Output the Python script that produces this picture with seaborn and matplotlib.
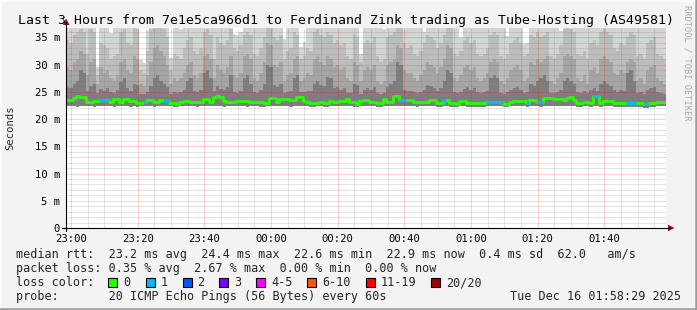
import numpy as np
import matplotlib
matplotlib.use("Agg")
import matplotlib.pyplot as plt
import seaborn as sns
from matplotlib.patches import Rectangle, Polygon
from matplotlib.lines import Line2D

# ---------------- data (one value per minute, 180 minutes) ----------------
start_time = "22:58:29"
tick_labels = ["23:00", "23:20", "23:40", "00:00", "00:20", "00:40", "01:00", "01:20", "01:40"]
ytick_values = [0, 5, 10, 15, 20, 25, 30, 35]
ytick_labels = ["0", "5 m", "10 m", "15 m", "20 m", "25 m", "30 m", "35 m"]

median_ms = [
    23.5, 23.5, 23.9, 24.2, 24.1, 24.1, 23.2, 23.2, 23.3, 23.3,
    23.4, 23.4, 23.4, 23.2, 23.6, 23.6, 23.2, 23.7, 23.7, 23.3,
    23.3, 23.0, 23.0, 23.2, 23.5, 23.5, 23.2, 23.2, 23.5, 23.3,
    23.3, 23.0, 23.0, 22.8, 23.2, 23.3, 23.3, 23.1, 23.2, 23.2,
    23.2, 23.7, 23.7, 23.2, 24.0, 24.2, 24.1, 23.3, 23.2, 23.2,
    23.2, 23.3, 23.3, 23.3, 23.3, 23.2, 23.2, 23.2, 23.2, 23.0,
    23.0, 23.8, 23.8, 23.2, 23.7, 23.7, 23.7, 23.4, 23.4, 24.1,
    24.1, 23.3, 23.2, 23.0, 23.0, 23.0, 23.2, 23.0, 23.0, 23.3,
    23.2, 23.2, 23.3, 23.3, 23.6, 23.2, 23.2, 22.8, 23.3, 23.5,
    23.5, 23.2, 23.2, 22.9, 22.9, 23.7, 23.2, 23.2, 24.2, 24.2,
    23.4, 23.4, 23.5, 23.5, 23.2, 23.2, 23.2, 23.2, 23.2, 23.4,
    23.4, 23.0, 23.0, 23.3, 23.5, 23.0, 23.0, 22.8, 23.3, 23.3,
    22.9, 22.9, 22.9, 22.9, 22.9, 22.9, 23.2, 23.2, 23.2, 23.2,
    23.2, 22.8, 22.8, 23.2, 23.3, 23.3, 23.3, 23.3, 23.0, 23.4,
    23.4, 23.1, 23.1, 23.9, 23.9, 23.9, 23.7, 23.7, 23.7, 23.4,
    23.8, 24.1, 23.5, 23.0, 23.0, 23.2, 23.2, 23.0, 24.2, 24.2,
    23.0, 23.3, 23.3, 23.3, 23.0, 23.0, 23.0, 23.0, 23.0, 23.0,
    23.0, 23.0, 23.0, 22.8, 22.8, 22.9, 22.9, 23.2, 23.2, 23.2,
]

lost_pings = [
    0, 0, 0, 0, 0, 0, 0, 0, 0, 0, 1, 1, 1, 0, 0, 0, 0, 0, 0, 0,
    0, 0, 0, 1, 0, 0, 0, 0, 0, 1, 1, 0, 0, 0, 0, 0, 0, 0, 0, 0,
    0, 0, 0, 0, 0, 0, 0, 0, 0, 0, 0, 0, 0, 0, 0, 0, 0, 0, 0, 0,
    0, 0, 0, 0, 0, 0, 0, 0, 0, 0, 0, 0, 0, 0, 0, 0, 0, 0, 0, 0,
    0, 0, 0, 0, 0, 0, 0, 0, 0, 0, 0, 0, 0, 0, 0, 0, 0, 0, 0, 0,
    1, 1, 0, 0, 0, 0, 0, 0, 0, 0, 0, 0, 0, 1, 0, 0, 0, 0, 0, 0,
    0, 0, 0, 0, 0, 0, 1, 1, 1, 1, 1, 0, 0, 0, 0, 0, 0, 0, 1, 0,
    0, 1, 1, 0, 0, 0, 0, 0, 0, 0, 0, 0, 0, 0, 0, 0, 0, 0, 1, 1,
    0, 0, 0, 0, 0, 0, 0, 0, 1, 1, 1, 0, 0, 1, 1, 0, 0, 0, 0, 0,
]

smoke_min = [
    22.3, 22.4, 22.3, 22.2, 22.3, 22.4, 22.3, 22.3, 22.2, 22.3,
    22.3, 22.4, 22.3, 22.3, 22.2, 22.3, 22.3, 22.4, 22.3, 22.2,
    22.3, 22.2, 22.3, 22.3, 22.4, 22.3, 22.2, 22.3, 22.3, 22.3,
    22.4, 22.3, 22.2, 22.2, 22.3, 22.3, 22.4, 22.3, 22.3, 22.2,
    22.3, 22.3, 22.4, 22.3, 22.3, 22.4, 22.3, 22.2, 22.3, 22.3,
    22.3, 22.4, 22.3, 22.3, 22.2, 22.3, 22.3, 22.3, 22.2, 22.2,
    22.3, 22.4, 22.3, 22.3, 22.3, 22.4, 22.3, 22.2, 22.3, 22.4,
    22.4, 22.3, 22.3, 22.2, 22.2, 22.3, 22.3, 22.2, 22.2, 22.3,
    22.3, 22.3, 22.4, 22.3, 22.3, 22.3, 22.2, 22.2, 22.3, 22.3,
    22.4, 22.3, 22.3, 22.2, 22.2, 22.3, 22.3, 22.3, 22.4, 22.4,
    22.3, 22.3, 22.4, 22.3, 22.3, 22.2, 22.3, 22.3, 22.3, 22.3,
    22.3, 22.2, 22.2, 22.3, 22.4, 22.2, 22.2, 22.2, 22.3, 22.3,
    22.2, 22.2, 22.2, 22.2, 22.2, 22.2, 22.3, 22.3, 22.3, 22.3,
    22.3, 22.2, 22.2, 22.3, 22.3, 22.3, 22.3, 22.3, 22.2, 22.3,
    22.3, 22.3, 22.2, 22.4, 22.4, 22.3, 22.3, 22.3, 22.3, 22.3,
    22.3, 22.4, 22.3, 22.2, 22.2, 22.3, 22.3, 22.2, 22.3, 22.3,
    22.2, 22.3, 22.3, 22.3, 22.2, 22.2, 22.2, 22.2, 22.2, 22.2,
    22.2, 22.2, 22.2, 22.1, 22.1, 22.2, 22.2, 22.3, 22.3, 22.3,
]

smoke_max = [
    37.5, 37.5, 37.5, 37.5, 37.5, 37.5, 36.8, 37.5, 37.5, 29.6,
    37.5, 37.5, 37.5, 35.8, 37.5, 37.5, 37.5, 37.5, 36.9, 37.5,
    37.5, 37.5, 30.8, 30.2, 36.4, 37.5, 37.5, 37.5, 37.5, 37.5,
    37.5, 31.2, 37.5, 37.5, 36.6, 37.5, 37.5, 37.5, 37.5, 36.9,
    37.5, 37.5, 37.5, 37.5, 37.5, 37.5, 37.5, 37.5, 37.5, 37.5,
    35.6, 35.4, 35.9, 37.5, 37.5, 37.5, 37.5, 36.8, 37.5, 37.5,
    37.5, 37.5, 37.5, 37.5, 37.5, 34.6, 37.5, 37.5, 37.5, 37.5,
    33.2, 34.1, 37.5, 37.5, 37.5, 37.5, 37.5, 37.5, 37.5, 37.5,
    37.5, 37.5, 37.5, 37.5, 37.5, 37.5, 37.5, 37.5, 31.9, 37.5,
    37.5, 37.5, 37.5, 37.5, 37.5, 36.5, 37.5, 37.5, 37.5, 37.5,
    37.5, 37.5, 37.5, 37.5, 37.5, 37.5, 37.5, 36.0, 37.5, 37.5,
    37.5, 37.5, 37.5, 37.5, 37.5, 37.5, 37.5, 37.5, 35.0, 37.5,
    37.5, 37.5, 37.5, 37.5, 37.5, 37.5, 37.5, 37.5, 37.5, 37.5,
    37.5, 37.5, 35.2, 37.5, 37.5, 37.5, 37.5, 33.7, 34.0, 37.5,
    37.5, 37.5, 37.5, 37.5, 37.5, 37.5, 37.5, 37.5, 36.1, 37.5,
    37.5, 37.5, 37.5, 37.5, 37.5, 37.5, 37.5, 37.5, 37.5, 37.5,
    37.5, 37.5, 37.5, 37.5, 37.5, 37.5, 37.5, 37.5, 37.5, 37.5,
    37.5, 37.5, 37.5, 37.5, 37.5, 37.5, 37.5, 37.5, 37.5, 37.5,
]

smoke_p85 = [
    34.5, 34.0, 35.5, 36.0, 36.5, 36.0, 32.0, 36.5, 36.0, 28.0,
    34.0, 33.5, 33.0, 31.0, 31.5, 32.0, 36.0, 36.5, 34.0, 33.5,
    37.0, 36.5, 29.0, 28.5, 32.5, 36.5, 37.5, 37.5, 37.0, 36.5,
    35.0, 29.0, 32.0, 31.5, 31.0, 33.0, 34.5, 35.0, 32.5, 32.0,
    33.0, 36.0, 36.5, 35.5, 31.0, 35.0, 34.0, 33.5, 34.5, 36.5,
    33.0, 32.5, 33.5, 35.5, 36.0, 35.5, 32.0, 31.5, 33.0, 35.0,
    37.5, 37.5, 35.0, 34.5, 35.5, 31.0, 32.5, 33.0, 36.0, 35.5,
    31.0, 31.5, 33.0, 32.5, 36.0, 36.5, 35.5, 35.0, 36.0, 35.5,
    34.0, 34.5, 33.5, 34.0, 31.5, 31.0, 35.5, 35.0, 30.5, 34.0,
    34.5, 34.0, 35.0, 31.5, 30.5, 31.0, 35.0, 35.5, 36.0, 37.5,
    37.5, 34.0, 33.0, 33.5, 32.0, 31.5, 32.5, 34.0, 35.5, 35.0,
    34.5, 33.0, 34.0, 35.5, 37.0, 37.0, 32.0, 31.5, 32.5, 34.5,
    35.0, 34.0, 34.5, 32.0, 31.5, 32.0, 33.0, 35.5, 36.0, 35.5,
    31.5, 31.0, 32.0, 34.0, 34.5, 35.0, 34.0, 31.5, 32.0, 35.5,
    35.0, 36.0, 35.0, 35.5, 36.0, 31.5, 31.0, 32.0, 33.5, 36.5,
    37.0, 36.5, 36.0, 32.0, 31.5, 32.5, 31.0, 34.0, 34.5, 33.5,
    36.0, 36.5, 36.0, 35.5, 33.0, 32.5, 34.0, 33.5, 35.0, 36.0,
    35.5, 31.5, 32.0, 31.0, 34.0, 34.5, 35.0, 32.0, 31.5, 31.0,
]

smoke_p70 = [
    29.5, 29.0, 30.5, 31.0, 32.5, 32.0, 28.0, 30.5, 31.0, 26.5,
    29.5, 28.5, 29.0, 27.5, 27.0, 28.0, 30.5, 31.0, 29.0, 28.5,
    31.5, 31.0, 26.5, 26.0, 28.0, 30.5, 33.0, 33.5, 32.5, 31.5,
    30.0, 26.5, 27.5, 27.0, 27.5, 28.5, 30.0, 30.5, 28.0, 27.5,
    28.5, 31.5, 32.0, 31.0, 27.5, 30.0, 29.0, 28.5, 29.5, 31.5,
    28.0, 27.5, 28.5, 31.5, 32.0, 31.0, 27.5, 27.0, 28.5, 30.5,
    34.0, 33.5, 30.0, 29.5, 30.5, 27.0, 28.0, 28.5, 31.0, 31.5,
    27.0, 27.5, 28.5, 28.0, 31.0, 31.5, 30.5, 30.0, 31.5, 31.0,
    29.5, 30.0, 29.0, 29.5, 27.5, 27.0, 30.5, 30.0, 27.0, 29.0,
    29.5, 29.0, 30.0, 27.0, 26.5, 27.0, 30.0, 30.5, 31.0, 33.5,
    33.0, 29.0, 28.5, 28.5, 27.5, 27.0, 28.0, 29.0, 30.5, 30.0,
    29.5, 28.5, 29.5, 31.0, 33.5, 33.0, 27.5, 27.0, 28.0, 29.5,
    30.0, 29.0, 29.5, 27.5, 27.0, 27.5, 28.5, 30.5, 31.0, 30.5,
    27.0, 26.5, 27.5, 29.0, 29.5, 30.0, 29.0, 27.0, 27.5, 30.5,
    30.0, 31.0, 30.5, 31.0, 31.5, 27.0, 26.5, 27.5, 28.5, 31.5,
    32.0, 31.5, 31.0, 27.5, 27.0, 28.0, 26.5, 29.0, 29.5, 28.5,
    31.0, 31.5, 31.0, 30.5, 28.5, 28.0, 29.0, 28.5, 30.5, 31.0,
    30.5, 27.0, 27.5, 26.5, 29.0, 29.5, 30.0, 27.5, 27.0, 26.5,
]

smoke_p60 = [
    25.8, 25.6, 26.5, 27.0, 29.0, 28.5, 25.2, 26.0, 26.5, 24.8,
    25.5, 25.2, 25.6, 24.9, 24.8, 25.3, 26.8, 27.5, 25.6, 25.2,
    26.5, 26.2, 24.6, 24.5, 25.0, 26.0, 27.5, 28.0, 27.0, 26.4,
    25.8, 24.6, 24.9, 24.8, 25.0, 25.4, 27.0, 27.5, 25.2, 25.0,
    25.3, 28.5, 29.0, 27.5, 25.2, 26.0, 25.5, 25.3, 25.8, 28.0,
    25.0, 24.8, 25.2, 27.5, 28.0, 26.5, 24.9, 24.7, 25.3, 26.5,
    30.0, 29.5, 26.2, 25.8, 26.4, 24.8, 25.0, 25.2, 27.5, 28.0,
    24.9, 25.0, 25.2, 25.1, 26.5, 27.0, 26.3, 26.0, 27.8, 27.5,
    25.6, 25.9, 25.4, 25.6, 24.8, 24.7, 26.5, 26.2, 24.6, 25.3,
    25.6, 25.3, 25.8, 24.8, 24.6, 24.8, 25.9, 26.4, 27.0, 30.5,
    30.0, 25.4, 25.1, 25.2, 24.9, 24.7, 25.0, 25.3, 26.2, 26.0,
    25.6, 25.2, 25.7, 27.0, 29.0, 28.5, 24.9, 24.7, 25.0, 25.5,
    25.8, 25.4, 25.6, 24.9, 24.7, 24.9, 25.2, 27.5, 28.0, 27.5,
    24.8, 24.6, 24.9, 25.4, 25.6, 25.9, 25.4, 24.8, 24.9, 26.5,
    26.0, 27.0, 27.5, 28.0, 27.0, 24.8, 24.7, 25.0, 25.3, 27.0,
    27.5, 27.0, 26.5, 25.0, 24.8, 25.1, 24.7, 25.4, 25.6, 25.2,
    26.5, 27.0, 26.5, 26.0, 25.3, 25.0, 25.4, 25.2, 28.5, 29.0,
    27.0, 24.8, 24.9, 24.6, 25.3, 25.6, 25.9, 24.9, 24.8, 24.6,
]

loss_legend_labels = ["0", "1", "2", "3", "4-5", "6-10", "11-19", "20/20"]
loss_legend_colors = ["#26ff00", "#00b8ff", "#0059ff", "#7e00ff",
                      "#ff00ff", "#ff5500", "#ff0000", "#a10000"]

# ---------------- styling ----------------
sns.set_theme(style="white")
plt.rcParams['font.family'] = ['DejaVu Sans Mono', 'DejaVu Sans']

W, H = 697, 310
BG = "#f3f3f3"
fig = plt.figure(figsize=(W / 100, H / 100), dpi=100, facecolor=BG)


def fx(px):
    return px / W


def fy(py):
    return 1 - py / H


def loss_color(n):
    if n == 0:
        return loss_legend_colors[0]
    if n <= 3:
        return loss_legend_colors[n]
    if n <= 5:
        return loss_legend_colors[4]
    if n <= 10:
        return loss_legend_colors[5]
    if n <= 19:
        return loss_legend_colors[6]
    return loss_legend_colors[7]


ax = fig.add_axes([fx(66), fy(228), 600 / W, 200 / H])
ax.set_facecolor("white")
n = len(median_ms)
edges = np.arange(n + 1)


def ext(a):
    a = np.asarray(a, dtype=float)
    return np.append(a, a[-1])


# smoke bands (outer = light, inner = dark)
band_colors = ["#d4d4d4", "#bdbdbd", "#a5a5a5", "#7e7e7e"]
for level, colr in zip([smoke_max, smoke_p85, smoke_p70, smoke_p60], band_colors):
    ax.fill_between(edges, ext(smoke_min), ext(level), step="post",
                    color=colr, lw=0, zorder=1)

# grid
def tmin(s):
    h, m = int(s[:2]), int(s[3:5])
    sec = int(s[6:8]) if len(s) > 5 else 0
    return h * 60 + m + sec / 60.0

t0 = tmin(start_time)
tick_pos = []
for lab in tick_labels:
    d = tmin(lab) - t0
    if d < 0:
        d += 24 * 60
    tick_pos.append(d)

minor_col = (0.45, 0.45, 0.45, 0.40)
major_col = (1.0, 0.0, 0.0, 0.35)
dot = (0, (1, 1))
for yv in range(1, 37):
    if yv % 5:
        ax.axhline(yv, color=minor_col, lw=0.72, ls=dot, zorder=2)
for xv in np.arange(tick_pos[0], n, 5):
    if all(abs(xv - tp) > 0.1 for tp in tick_pos):
        ax.axvline(xv, color=minor_col, lw=0.72, ls=dot, zorder=2)
for yv in ytick_values[1:]:
    ax.axhline(yv, color=major_col, lw=0.72, ls=dot, zorder=2)
for xv in tick_pos:
    ax.axvline(xv, color=major_col, lw=0.72, ls=dot, zorder=2)

# median line, coloured by loss
sns.lineplot(x=edges, y=ext(median_ms), drawstyle="steps-post",
             color=loss_legend_colors[0], lw=2.0, ax=ax, zorder=4)
for i, (m, l) in enumerate(zip(median_ms, lost_pings)):
    if l > 0:
        ax.hlines(m, i, i + 1, colors=loss_color(l), lw=2.0, zorder=5)

ax.set_xlim(0, n)
ax.set_ylim(0, 36.7)
ax.set_xticks(tick_pos)
ax.set_xticklabels(tick_labels)
ax.set_yticks(ytick_values)
ax.set_yticklabels(ytick_labels)
ax.tick_params(axis="x", length=0, pad=4.0, labelsize=7.6, colors="black")
ax.tick_params(axis="y", length=0, pad=4.3, labelsize=7.6, colors="black")
ax.set_xlabel("")
ax.set_ylabel("")
for s in ax.spines.values():
    s.set_visible(False)

# axes lines with arrows
axis_red = "#8b1010"
fig.add_artist(Line2D([fx(66), fx(66)], [fy(231), fy(22)], color="black", lw=0.8))
fig.add_artist(Line2D([fx(62), fx(669)], [fy(228), fy(228)], color="black", lw=0.8))
fig.add_artist(Polygon([[fx(63), fy(25)], [fx(69.5), fy(25)], [fx(66.2), fy(18.5)]],
                       closed=True, transform=fig.transFigure, color=axis_red, lw=0))
fig.add_artist(Polygon([[fx(668), fy(224.8)], [fx(668), fy(231.2)], [fx(674.5), fy(228)]],
                       closed=True, transform=fig.transFigure, color=axis_red, lw=0))

# titles / labels
fig.text(fx(346), fy(24), "Last 3 Hours from 7e1e5ca966d1 to Ferdinand Zink trading as Tube-Hosting (AS49581)",
         ha="center", va="baseline", fontsize=9.5, color="black")
fig.text(fx(10), fy(128), "Seconds", rotation=90, ha="center", va="center", fontsize=7.6)
fig.text(fx(687.5), fy(5), "RRDTOOL / TOBI OETIKER", rotation=270, ha="center", va="top",
         fontsize=6.2, color="#a9a9a9")

lfs = 8.5
fig.text(fx(16), fy(258), "median rtt:  23.2 ms avg  24.4 ms max  22.6 ms min  22.9 ms now  0.4 ms sd  62.0   am/s",
         ha="left", va="baseline", fontsize=lfs)
fig.text(fx(16), fy(272), "packet loss: 0.35 % avg  2.67 % max  0.00 % min  0.00 % now",
         ha="left", va="baseline", fontsize=lfs)
fig.text(fx(16), fy(286), "loss color:", ha="left", va="baseline", fontsize=lfs)
fig.text(fx(16), fy(300), "probe:       20 ICMP Echo Pings (56 Bytes) every 60s",
         ha="left", va="baseline", fontsize=lfs)
fig.text(fx(681), fy(300), "Tue Dec 16 01:58:29 2025", ha="right", va="baseline", fontsize=lfs)

box_x = [108, 145.5, 182.5, 219, 256, 307, 366, 431]
for bx, lab, colr in zip(box_x, loss_legend_labels, loss_legend_colors):
    fig.add_artist(Rectangle((fx(bx), fy(287)), 9 / W, 9 / H, transform=fig.transFigure,
                             facecolor=colr, edgecolor="black", lw=0.8))
    fig.text(fx(bx + 15), fy(286), lab, ha="left", va="baseline", fontsize=lfs)

# 3D frame around the image
fig.add_artist(Line2D([0, 1], [fy(0.5), fy(0.5)], color="#fcfcfc", lw=1.4))
fig.add_artist(Line2D([fx(0.5), fx(0.5)], [0, 1], color="#fcfcfc", lw=1.4))
fig.add_artist(Line2D([0, 1], [fy(309), fy(309)], color="#9c9c9c", lw=1.8))
fig.add_artist(Line2D([fx(696), fx(696)], [0, 1], color="#9c9c9c", lw=1.8))

fig.savefig("out.png", dpi=100, facecolor=BG)
